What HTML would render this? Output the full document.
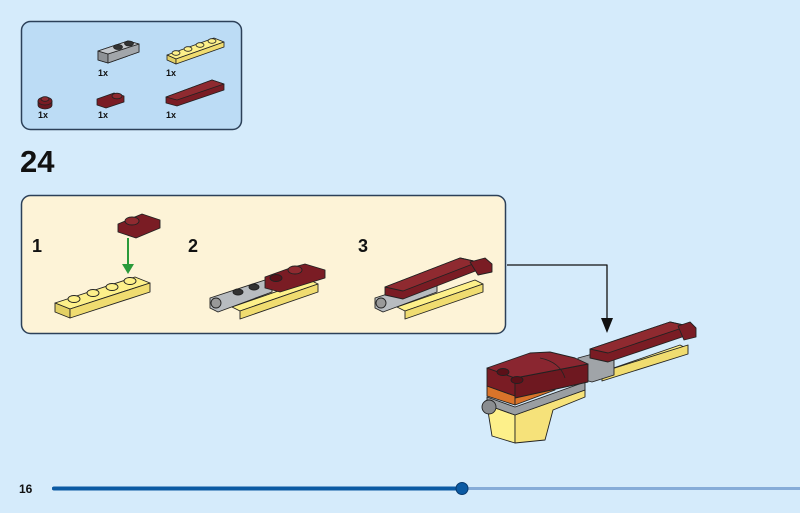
<!DOCTYPE html>
<html><head><style>
html,body{margin:0;padding:0;width:800px;height:513px;overflow:hidden;background:#d5ebfb;font-family:"Liberation Sans",sans-serif}
svg{position:absolute;left:0;top:0}
</style></head><body>
<svg width="800" height="513" viewBox="0 0 800 513" stroke-linejoin="round">
<!-- parts box -->
<rect x="21.5" y="21.5" width="220" height="108" rx="9" fill="#bcdcf5" stroke="#2c4058" stroke-width="1.5"/>
<g stroke="#222" stroke-width="0.8">
<!-- gray clip plate -->
<polygon points="98,51 128,41 139,44 139,52 108,63 98,60" fill="#b8bcc0"/>
<polygon points="98,51 108,54 108,63 98,60" fill="#8e9296"/>
<polygon points="108,54 139,44 139,52 108,63" fill="#a2a6aa"/>
<polygon points="98,51 128,41 139,44 108,54" fill="#c4c8cc"/>
<ellipse cx="118" cy="47" rx="4.5" ry="2.5" fill="#333"/><ellipse cx="129" cy="43.5" rx="4.5" ry="2.5" fill="#333"/>
<!-- yellow 1x4 -->
<polygon points="167,55 214,38 224,42 176,59" fill="#fdf08a"/>
<polygon points="167,55 176,59 176,64 167,60" fill="#e3d065"/>
<polygon points="176,59 224,42 224,47 176,64" fill="#f0dc70"/>
<ellipse cx="176" cy="53" rx="4" ry="2.3" fill="#fdf08a"/><ellipse cx="188" cy="49" rx="4" ry="2.3" fill="#fdf08a"/><ellipse cx="200" cy="45" rx="4" ry="2.3" fill="#fdf08a"/><ellipse cx="212" cy="41" rx="4" ry="2.3" fill="#fdf08a"/>
<!-- round -->
<path d="M38,101 L38,105 A7,4 0 0 0 52,105 L52,101 Z" fill="#6a1820"/>
<ellipse cx="45" cy="101" rx="7" ry="4" fill="#7a1c24"/><ellipse cx="45" cy="99" rx="4" ry="2.3" fill="#8f2a30"/>
<!-- red clip -->
<polygon points="97,99 114,93 124,96 124,102 106,108 97,105" fill="#7a1c24"/>
<ellipse cx="117" cy="96" rx="5" ry="2.8" fill="#8f2a30"/>
<!-- red tile -->
<polygon points="166,97 212,80 224,84 224,90 177,106 166,103" fill="#7a1c24"/>
<polygon points="166,97 212,80 224,84 177,100" fill="#8f2a30"/>
</g>
<g font-size="9" font-weight="bold" fill="#111">
<text x="98" y="76">1x</text><text x="166" y="76">1x</text>
<text x="38" y="118">1x</text><text x="98" y="118">1x</text><text x="166" y="118">1x</text>
</g>
<text x="20" y="172" font-size="31" font-weight="bold" fill="#111">24</text>
<!-- callout -->
<rect x="21.5" y="195.5" width="484" height="138" rx="9" fill="#fdf3d7" stroke="#2c4058" stroke-width="1.5"/>
<g font-size="18" font-weight="bold" fill="#111"><text x="32" y="252">1</text><text x="188" y="252">2</text><text x="358" y="252">3</text></g>
<g stroke="#222" stroke-width="0.9">
<!-- step 1 -->
<polygon points="55,303 135,277 150,283 70,309" fill="#fdf08a"/>
<polygon points="55,303 70,309 70,318 55,312" fill="#e3d065"/>
<polygon points="70,309 150,283 150,292 70,318" fill="#f0dc70"/>
<ellipse cx="74" cy="299" rx="6" ry="3.5" fill="#fdf08a"/><ellipse cx="93" cy="293" rx="6" ry="3.5" fill="#fdf08a"/><ellipse cx="112" cy="287" rx="6" ry="3.5" fill="#fdf08a"/><ellipse cx="130" cy="281" rx="6" ry="3.5" fill="#fdf08a"/>
<polygon points="118,224 142,214 160,220 160,228 136,238 118,232" fill="#7a1c24"/>
<ellipse cx="132" cy="221" rx="7" ry="4" fill="#8f2a30"/>
</g>
<line x1="128" y1="238" x2="128" y2="268" stroke="#2a9a3a" stroke-width="2"/>
<polygon points="122,264 134,264 128,274" fill="#2a9a3a"/>
<g stroke="#222" stroke-width="0.9">
<!-- step 2 -->
<polygon points="232,307 310,280 318,284 240,311" fill="#fdf08a"/>
<polygon points="240,311 318,284 318,292 240,319" fill="#f0dc70"/>
<polygon points="210,298 265,280 272,284 272,292 218,312 210,308" fill="#b8bcc0"/>
<circle cx="216" cy="303" r="5" fill="#999"/>
<ellipse cx="238" cy="292" rx="5" ry="3" fill="#333"/><ellipse cx="254" cy="287" rx="5" ry="3" fill="#333"/>
<polygon points="265,277 290,268 305,264 325,270 325,278 280,292 265,288" fill="#7a1c24"/>
<ellipse cx="276" cy="278" rx="6" ry="3.5" fill="#5a1018"/><ellipse cx="295" cy="270" rx="7" ry="4" fill="#8f2a30"/>
<!-- step 3 -->
<polygon points="397,307 475,280 483,284 405,311" fill="#fdf08a"/>
<polygon points="405,311 483,284 483,292 405,319" fill="#f0dc70"/>
<polygon points="375,298 430,280 437,284 437,292 383,312 375,308" fill="#b8bcc0"/>
<circle cx="381" cy="303" r="5" fill="#999"/>
<polygon points="385,287 460,258 478,262 478,270 403,299 385,295" fill="#7a1c24"/>
<polygon points="385,287 460,258 478,262 403,291" fill="#8f2a30"/>
<polygon points="470,262 485,258 492,264 492,272 478,275" fill="#7a1c24"/>
</g>
<!-- connector arrow -->
<polyline points="507,265 607,265 607,322" fill="none" stroke="#111" stroke-width="1.3"/>
<polygon points="601,318 613,318 607,333" fill="#111"/>
<!-- main model -->
<g stroke="#222" stroke-width="0.9">
<!-- arm -->
<polygon points="602,372 680,345 688,349 610,376" fill="#fdf08a"/>
<polygon points="602,372 688,345 688,354 602,381" fill="#f0dc70"/>
<polygon points="578,358 600,352 614,355 614,375 592,382 578,378" fill="#a0a4a8"/>
<polygon points="590,349 670,322 688,326 688,335 608,362 590,358" fill="#7a1c24"/>
<polygon points="590,349 670,322 688,326 608,353" fill="#8f2a30"/>
<polygon points="678,326 690,322 696,328 696,337 684,340" fill="#7a1c24"/>
<!-- yellow base -->
<polygon points="487,405 515,415 515,443 492,436" fill="#fdf08a"/>
<polygon points="515,415 585,390 585,397 553,410 545,440 515,443" fill="#f6e27a"/>
<!-- gray band -->
<polygon points="487,397 515,407 585,382 585,390 515,415 487,405" fill="#9a9ea2"/>
<!-- orange band -->
<polygon points="487,386 515,396 515,405 487,396" fill="#d9742a"/>
<polygon points="515,396 555,382 555,390 515,405" fill="#d9742a"/>
<!-- red block -->
<polygon points="487,368 515,378 515,396 487,386" fill="#7a1c24"/>
<polygon points="515,378 588,364 588,382 515,398" fill="#6e1820"/>
<polygon points="487,368 530,353 550,352 575,358 588,364 515,378" fill="#8a2630"/>
<path d="M540,358 Q560,362 565,378" fill="none" stroke="#222" stroke-width="0.8"/>
<ellipse cx="503" cy="372" rx="6" ry="3.5" fill="#5a1018"/><ellipse cx="517" cy="380" rx="6" ry="3.5" fill="#5a1018"/>
<circle cx="489" cy="407" r="7" fill="#8a8d90"/>
</g>
<!-- footer -->
<text x="19" y="493" font-size="12" font-weight="bold" fill="#111">16</text>
<line x1="52" y1="488.5" x2="800" y2="488.5" stroke="#86acd8" stroke-width="3"/>
<line x1="54" y1="488.5" x2="462" y2="488.5" stroke="#0b5aa3" stroke-width="4" stroke-linecap="round"/>
<circle cx="462" cy="488.5" r="6" fill="#0b5aa3" stroke="#083a6e" stroke-width="1"/>
</svg>
</body></html>
